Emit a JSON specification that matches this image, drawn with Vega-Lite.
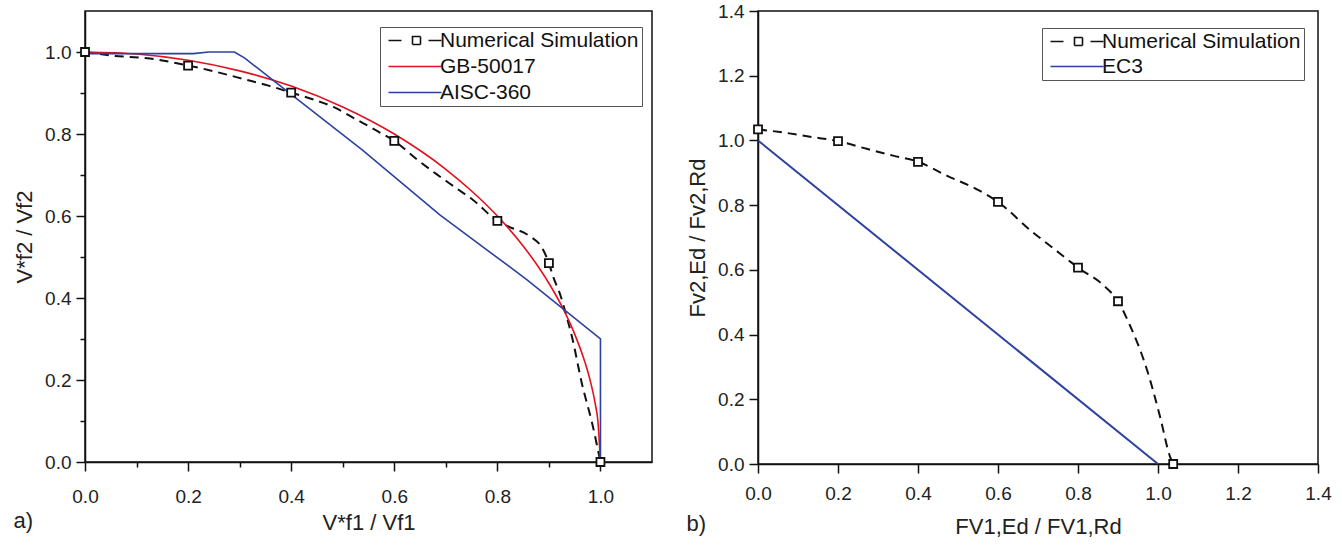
{
  "$schema": "https://vega.github.io/schema/vega-lite/v6.json",
  "background": "white",
  "padding": {"left": 12, "top": 1, "right": 6, "bottom": 2},
  "spacing": 32,
  "resolve": {"scale": {"color": "independent"}, "legend": {"color": "independent"}},
  "datasets": {
    "leftNumPts": [
      {"x": 0.0, "y": 1.0}, {"x": 0.2, "y": 0.967}, {"x": 0.4, "y": 0.901}, {"x": 0.6, "y": 0.783},
      {"x": 0.8, "y": 0.588}, {"x": 0.9, "y": 0.485}, {"x": 1.0, "y": 0.0}
    ],
    "leftNumLine": [
      {"series": "Numerical Simulation", "x": 0.0, "y": 1.0}, {"series": "Numerical Simulation", "x": 0.054, "y": 0.991},
      {"series": "Numerical Simulation", "x": 0.126, "y": 0.984}, {"series": "Numerical Simulation", "x": 0.2, "y": 0.967},
      {"series": "Numerical Simulation", "x": 0.226, "y": 0.96}, {"series": "Numerical Simulation", "x": 0.314, "y": 0.932},
      {"series": "Numerical Simulation", "x": 0.356, "y": 0.918}, {"series": "Numerical Simulation", "x": 0.4, "y": 0.901},
      {"series": "Numerical Simulation", "x": 0.443, "y": 0.884}, {"series": "Numerical Simulation", "x": 0.482, "y": 0.866},
      {"series": "Numerical Simulation", "x": 0.527, "y": 0.835}, {"series": "Numerical Simulation", "x": 0.573, "y": 0.803},
      {"series": "Numerical Simulation", "x": 0.6, "y": 0.783}, {"series": "Numerical Simulation", "x": 0.643, "y": 0.739},
      {"series": "Numerical Simulation", "x": 0.682, "y": 0.702}, {"series": "Numerical Simulation", "x": 0.718, "y": 0.67},
      {"series": "Numerical Simulation", "x": 0.754, "y": 0.638}, {"series": "Numerical Simulation", "x": 0.8, "y": 0.588},
      {"series": "Numerical Simulation", "x": 0.824, "y": 0.573}, {"series": "Numerical Simulation", "x": 0.86, "y": 0.553},
      {"series": "Numerical Simulation", "x": 0.889, "y": 0.517}, {"series": "Numerical Simulation", "x": 0.9, "y": 0.485},
      {"series": "Numerical Simulation", "x": 0.908, "y": 0.453}, {"series": "Numerical Simulation", "x": 0.922, "y": 0.408},
      {"series": "Numerical Simulation", "x": 0.935, "y": 0.352}, {"series": "Numerical Simulation", "x": 0.945, "y": 0.304},
      {"series": "Numerical Simulation", "x": 0.964, "y": 0.191}, {"series": "Numerical Simulation", "x": 0.984, "y": 0.094},
      {"series": "Numerical Simulation", "x": 1.0, "y": 0.0}
    ],
    "leftGB": [
      {"series": "GB-50017", "x": 0.0, "y": 1.0}, {"series": "GB-50017", "x": 0.1, "y": 0.995},
      {"series": "GB-50017", "x": 0.2, "y": 0.98}, {"series": "GB-50017", "x": 0.3, "y": 0.954},
      {"series": "GB-50017", "x": 0.4, "y": 0.917}, {"series": "GB-50017", "x": 0.5, "y": 0.866},
      {"series": "GB-50017", "x": 0.6, "y": 0.8}, {"series": "GB-50017", "x": 0.7, "y": 0.714},
      {"series": "GB-50017", "x": 0.75, "y": 0.661}, {"series": "GB-50017", "x": 0.8, "y": 0.6},
      {"series": "GB-50017", "x": 0.85, "y": 0.527}, {"series": "GB-50017", "x": 0.9, "y": 0.436},
      {"series": "GB-50017", "x": 0.925, "y": 0.38}, {"series": "GB-50017", "x": 0.95, "y": 0.312},
      {"series": "GB-50017", "x": 0.97, "y": 0.243}, {"series": "GB-50017", "x": 0.98, "y": 0.199},
      {"series": "GB-50017", "x": 0.99, "y": 0.141}, {"series": "GB-50017", "x": 0.995, "y": 0.1},
      {"series": "GB-50017", "x": 1.0, "y": 0.0}
    ],
    "leftAISC": [
      {"series": "AISC-360", "x": 0.0, "y": 0.996}, {"series": "AISC-360", "x": 0.21, "y": 0.996},
      {"series": "AISC-360", "x": 0.24, "y": 1.0}, {"series": "AISC-360", "x": 0.29, "y": 1.0},
      {"series": "AISC-360", "x": 0.31, "y": 0.985}, {"series": "AISC-360", "x": 0.372, "y": 0.924},
      {"series": "AISC-360", "x": 0.539, "y": 0.76}, {"series": "AISC-360", "x": 0.689, "y": 0.602},
      {"series": "AISC-360", "x": 0.857, "y": 0.445}, {"series": "AISC-360", "x": 1.0, "y": 0.3},
      {"series": "AISC-360", "x": 1.0, "y": 0.0}
    ],
    "rightNumPts": [
      {"x": 0.0, "y": 1.034}, {"x": 0.2, "y": 0.998}, {"x": 0.4, "y": 0.934}, {"x": 0.6, "y": 0.81},
      {"x": 0.8, "y": 0.607}, {"x": 0.9, "y": 0.503}, {"x": 1.038, "y": 0.0}
    ],
    "rightNumLine": [
      {"series": "Numerical Simulation", "x": 0.0, "y": 1.034}, {"series": "Numerical Simulation", "x": 0.055, "y": 1.026},
      {"series": "Numerical Simulation", "x": 0.138, "y": 1.01}, {"series": "Numerical Simulation", "x": 0.2, "y": 0.998},
      {"series": "Numerical Simulation", "x": 0.272, "y": 0.974}, {"series": "Numerical Simulation", "x": 0.338, "y": 0.953},
      {"series": "Numerical Simulation", "x": 0.4, "y": 0.934}, {"series": "Numerical Simulation", "x": 0.472, "y": 0.891},
      {"series": "Numerical Simulation", "x": 0.555, "y": 0.844}, {"series": "Numerical Simulation", "x": 0.6, "y": 0.81},
      {"series": "Numerical Simulation", "x": 0.684, "y": 0.719}, {"series": "Numerical Simulation", "x": 0.738, "y": 0.667},
      {"series": "Numerical Simulation", "x": 0.78, "y": 0.626}, {"series": "Numerical Simulation", "x": 0.8, "y": 0.607},
      {"series": "Numerical Simulation", "x": 0.863, "y": 0.553}, {"series": "Numerical Simulation", "x": 0.9, "y": 0.503},
      {"series": "Numerical Simulation", "x": 0.93, "y": 0.428}, {"series": "Numerical Simulation", "x": 0.972, "y": 0.293},
      {"series": "Numerical Simulation", "x": 1.005, "y": 0.147}, {"series": "Numerical Simulation", "x": 1.03, "y": 0.023},
      {"series": "Numerical Simulation", "x": 1.038, "y": 0.0}
    ],
    "rightCodes": [
      {"series": "EC3", "x": 0.0, "y": 1.0}, {"series": "EC3", "x": 1.0, "y": 0.0}
    ]
  },
  "hconcat": [
    {
      "width": 567,
      "height": 451,
      "title": {"text": "a)", "orient": "bottom", "anchor": "start", "frame": "bounds", "offset": -22, "fontSize": 22, "font": "Liberation Sans", "fontWeight": "normal", "color": "#222"},
      "layer": [
        {
          "data": {"name": "leftNumLine"},
          "mark": {"type": "line", "strokeDash": [9, 6], "strokeWidth": 2, "interpolate": "monotone"},
          "encoding": {
            "x": {"field": "x", "type": "quantitative", "scale": {"domain": [0, 1.1], "nice": false, "zero": false},
              "axis": {"title": "V*f1 / Vf1", "values": [0, 0.1, 0.2, 0.3, 0.4, 0.5, 0.6, 0.7, 0.8, 0.9, 1.0],
                "labelExpr": "round(datum.value*10) % 2 == 1 ? '' : format(datum.value, '.1f')",
                "tickSize": {"condition": {"test": "round(datum.value*10) % 2 == 1", "value": 5}, "value": 9},
                "labelPadding": 16, "titlePadding": 6,
                "labelFlush": false, "labelOverlap": false}},
            "y": {"field": "y", "type": "quantitative", "scale": {"domain": [0, 1.1], "nice": false, "zero": false},
              "axis": {"title": "V*f2 / Vf2", "values": [0, 0.1, 0.2, 0.3, 0.4, 0.5, 0.6, 0.7, 0.8, 0.9, 1.0],
                "labelExpr": "round(datum.value*10) % 2 == 1 ? '' : format(datum.value, '.1f')",
                "tickSize": {"condition": {"test": "round(datum.value*10) % 2 == 1", "value": 5}, "value": 9},
                "labelOverlap": false}},
            "color": {"field": "series", "type": "nominal",
              "scale": {"domain": ["Numerical Simulation", "GB-50017", "AISC-360"], "range": ["#111111", "#e5101d", "#2d41a0"]},
              "legend": {"title": null, "orient": "none", "legendX": 295, "legendY": 16, "direction": "vertical",
                "strokeColor": "#555", "fillColor": "white", "padding": 3, "labelFont": "Liberation Sans", "labelFontSize": 21,
                "labelColor": "#111", "labelLimit": 0, "symbolSize": 100, "symbolStrokeWidth": 1.6, "labelOffset": 36, "rowPadding": 4,
                "encode": {"symbols": {"update": {
                  "shape": {"signal": "datum.value === 'Numerical Simulation' ? 'M-1,0H1.6M3.8,-0.8H5.4V0.8H3.8ZM7,0H9.6' : 'M-1,0H9.6'"},
                  "fill": {"value": "transparent"},
                  "strokeDash": {"value": [1, 0]}}}}}}
          }
        },
        {
          "data": {"name": "leftGB"},
          "mark": {"type": "line", "strokeWidth": 1.6, "interpolate": "monotone"},
          "encoding": {
            "x": {"field": "x", "type": "quantitative"},
            "y": {"field": "y", "type": "quantitative"},
            "color": {"field": "series", "type": "nominal"}
          }
        },
        {
          "data": {"name": "leftAISC"},
          "mark": {"type": "line", "strokeWidth": 1.6, "interpolate": "linear"},
          "encoding": {
            "x": {"field": "x", "type": "quantitative"},
            "y": {"field": "y", "type": "quantitative"},
            "color": {"field": "series", "type": "nominal"}
          }
        },
        {
          "data": {"name": "leftNumPts"},
          "mark": {"type": "point", "shape": "square", "size": 64, "filled": true, "fill": "white", "stroke": "#111", "strokeWidth": 1.8, "opacity": 1},
          "encoding": {
            "x": {"field": "x", "type": "quantitative"},
            "y": {"field": "y", "type": "quantitative"}
          }
        }
      ]
    },
    {
      "width": 560,
      "height": 453,
      "title": {"text": "b)", "orient": "bottom", "anchor": "start", "frame": "bounds", "offset": -23, "fontSize": 22, "font": "Liberation Sans", "fontWeight": "normal", "color": "#222"},
      "layer": [
        {
          "data": {"name": "rightNumLine"},
          "mark": {"type": "line", "strokeDash": [9, 6], "strokeWidth": 2, "interpolate": "monotone"},
          "encoding": {
            "x": {"field": "x", "type": "quantitative", "scale": {"domain": [0, 1.4], "nice": false, "zero": false},
              "axis": {"title": "FV1,Ed / FV1,Rd", "values": [0, 0.1, 0.2, 0.3, 0.4, 0.5, 0.6, 0.7, 0.8, 0.9, 1.0, 1.1, 1.2, 1.3, 1.4],
                "labelExpr": "round(datum.value*10) % 2 == 1 ? '' : format(datum.value, '.1f')",
                "tickSize": {"condition": {"test": "round(datum.value*10) % 2 == 1", "value": 5}, "value": 9},
                "labelPadding": 11, "titlePadding": 13,
                "labelFlush": false, "labelOverlap": false}},
            "y": {"field": "y", "type": "quantitative", "scale": {"domain": [0, 1.4], "nice": false, "zero": false},
              "axis": {"title": "Fv2,Ed / Fv2,Rd", "values": [0, 0.1, 0.2, 0.3, 0.4, 0.5, 0.6, 0.7, 0.8, 0.9, 1.0, 1.1, 1.2, 1.3, 1.4],
                "labelExpr": "round(datum.value*10) % 2 == 1 ? '' : format(datum.value, '.1f')",
                "tickSize": {"condition": {"test": "round(datum.value*10) % 2 == 1", "value": 5}, "value": 9},
                "labelOverlap": false}},
            "color": {"field": "series", "type": "nominal",
              "scale": {"domain": ["Numerical Simulation", "EC3"], "range": ["#111111", "#2d41a0"]},
              "legend": {"title": null, "orient": "none", "legendX": 284, "legendY": 17, "direction": "vertical",
                "strokeColor": "#555", "fillColor": "white", "padding": 3, "labelFont": "Liberation Sans", "labelFontSize": 21,
                "labelColor": "#111", "labelLimit": 0, "symbolSize": 100, "symbolStrokeWidth": 1.6, "labelOffset": 36, "rowPadding": 3,
                "encode": {"symbols": {"update": {
                  "shape": {"signal": "datum.value === 'Numerical Simulation' ? 'M-1,0H1.6M3.8,-0.8H5.4V0.8H3.8ZM7,0H9.6' : 'M-1,0H9.6'"},
                  "fill": {"value": "transparent"},
                  "strokeDash": {"value": [1, 0]}}}}}}
          }
        },
        {
          "data": {"name": "rightCodes"},
          "mark": {"type": "line", "strokeWidth": 2, "interpolate": "linear"},
          "encoding": {
            "x": {"field": "x", "type": "quantitative"},
            "y": {"field": "y", "type": "quantitative"},
            "color": {"field": "series", "type": "nominal"}
          }
        },
        {
          "data": {"name": "rightNumPts"},
          "mark": {"type": "point", "shape": "square", "size": 64, "filled": true, "fill": "white", "stroke": "#111", "strokeWidth": 1.8, "opacity": 1},
          "encoding": {
            "x": {"field": "x", "type": "quantitative"},
            "y": {"field": "y", "type": "quantitative"}
          }
        }
      ]
    }
  ],
  "config": {
    "font": "Liberation Sans",
    "view": {"stroke": "#111", "strokeWidth": 1.5},
    "axis": {"grid": false, "domainColor": "#111", "domainWidth": 1.5, "tickColor": "#111", "tickWidth": 1.5,
      "labelFont": "Liberation Sans", "labelFontSize": 19, "labelColor": "#222", "labelPadding": 5,
      "titleFont": "Liberation Sans", "titleFontSize": 22, "titleFontWeight": "normal", "titleColor": "#222", "titlePadding": 8}
  }
}
